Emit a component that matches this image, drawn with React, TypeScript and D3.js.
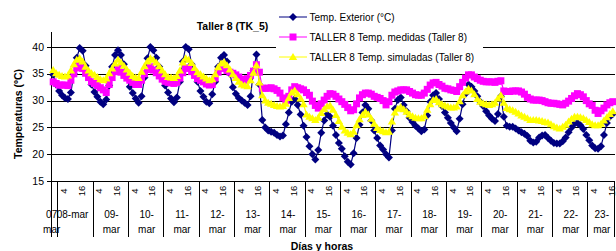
import { useEffect, useRef } from 'react';
import * as d3 from 'd3';

// days on the category axis (first and last are partial)
const days = [
  '07-mar', '08-mar', '09-mar', '10-mar', '11-mar', '12-mar', '13-mar', '14-mar',
  '15-mar', '16-mar', '17-mar', '18-mar', '19-mar', '20-mar', '21-mar', '22-mar', '23-mar',
];
const firstDayHours = d3.range(20, 25);
const fullDayHours = d3.range(1, 25);
const lastDayHours = d3.range(1, 19);
const hourTicks = [4, 16];
const yTicks = [15, 20, 25, 30, 35, 40];

// readings every odd hour (07-mar 21h ... 23-mar 17h)
const exterior = [
  34.8, 33.0,
  31.8, 31.0, 30.5, 30.3, 31.5, 35.0, 38.0, 39.8, 39.3, 36.5, 34.7, 33.0,
  31.6, 30.7, 29.8, 29.3, 30.2, 32.8, 36.3, 38.5, 39.4, 38.5, 36.8, 34.3,
  32.6, 31.4, 30.4, 29.6, 30.8, 34.3, 37.9, 40.0, 39.4, 38.0, 36.3, 34.5,
  32.8, 31.5, 30.4, 29.7, 30.6, 33.5, 37.3, 40.0, 39.6, 36.8, 34.8, 33.5,
  31.8, 30.7, 29.8, 29.5, 31.2, 33.5, 36.3, 38.0, 38.5, 37.3, 35.0, 32.5,
  31.3, 30.5, 30.0, 29.6, 29.2, 30.8, 35.6, 38.6, 33.0, 26.4, 25.0, 24.4,
  24.2, 24.0, 23.6, 23.3, 23.5, 25.6, 27.8, 29.8, 30.3, 29.2, 27.4, 25.3,
  23.2, 21.5, 20.0, 19.0, 20.8, 24.0, 26.3, 27.4, 27.0, 25.3, 23.6, 22.1,
  21.0, 19.6, 18.6, 18.1, 20.2, 23.0, 25.5, 27.8, 29.2, 28.5, 26.3, 24.4,
  23.0, 21.6, 20.9, 20.0, 19.4, 24.4, 28.5, 30.1, 30.6, 29.2, 28.0, 26.8,
  26.0, 25.3, 24.8, 24.3, 24.6, 27.2, 29.8, 31.0, 31.4, 30.3, 29.0, 27.8,
  26.8, 25.8, 25.0, 24.3, 26.6, 29.3, 31.3, 33.0, 32.6, 31.8, 30.8, 29.8,
  29.0, 28.0, 27.2, 26.6, 26.2, 27.5, 30.8, 27.0, 25.3, 25.1, 25.1, 24.8,
  24.4, 24.1, 23.8, 23.4, 22.5, 22.2, 22.3, 23.1, 23.5, 23.6, 23.0, 22.5,
  22.1, 22.0, 22.0, 22.4, 23.1, 24.1, 25.0, 25.7, 25.8, 25.4, 24.7, 23.6,
  22.6, 21.6, 21.1, 21.0, 21.5, 23.6, 25.8, 27.0, 27.5,
];

const medidas = [
  33.5, 33.2,
  32.9, 32.9, 32.9, 32.8, 33.8, 35.0, 36.1, 36.6, 36.0, 35.1, 34.3, 33.5,
  33.2, 32.8, 32.4, 32.0, 31.5, 33.0, 34.3, 35.4, 36.0, 35.3, 34.7, 34.2,
  33.8, 33.4, 33.0, 33.0, 33.8, 35.0, 35.8, 36.3, 35.7, 35.2, 34.6, 34.0,
  33.6, 33.4, 33.3, 33.2, 33.4, 34.2, 35.2, 36.1, 36.0, 35.4, 34.7, 34.1,
  33.8, 33.5, 33.1, 32.9, 33.0, 34.2, 35.3, 36.2, 36.0, 35.6, 35.3, 35.1,
  34.8, 34.4, 34.0, 33.8, 34.1, 34.7, 35.5, 36.7, 35.3, 32.3, 32.3, 32.3,
  32.4, 32.2, 31.9, 31.4, 30.5, 30.0, 30.8, 32.0, 32.6, 32.4, 32.2, 32.0,
  31.5, 31.0, 29.9, 29.1, 28.6, 29.4, 30.1, 30.8, 31.3, 31.2, 30.8, 30.3,
  29.8, 29.3, 28.7, 28.1, 28.3, 29.4, 30.5, 31.1, 31.4, 31.4, 31.2, 30.8,
  30.6, 30.4, 30.0, 29.2, 29.8, 31.0, 31.6, 31.8, 32.0, 32.0, 32.0, 31.7,
  31.4, 31.1, 31.0, 31.0, 31.4, 32.1, 32.9, 33.3, 33.4, 33.0, 32.7, 32.3,
  32.2, 32.0, 31.9, 31.7, 32.6, 33.4, 34.2, 34.8, 34.8, 34.4, 34.1, 33.8,
  33.6, 33.5, 33.5, 33.5, 33.4, 33.6, 33.7, 31.8, 31.7, 31.7, 31.8, 31.8,
  31.8, 31.6, 31.2, 30.6, 30.3, 30.1, 30.1, 30.1, 30.0, 29.8, 29.6, 29.5,
  29.5, 29.4, 29.3, 29.2, 29.5, 29.9, 30.4, 30.9, 31.3, 31.1, 30.7, 30.0,
  29.4, 29.1, 28.2, 27.6, 28.1, 28.6, 29.2, 29.6, 29.8,
];

const simuladas = [
  35.7, 35.1,
  34.8, 34.6, 34.5, 34.7, 35.6, 36.8, 37.6, 37.9, 37.3, 36.3, 35.6, 35.1,
  34.8, 34.4, 34.0, 33.8, 34.1, 35.1, 36.0, 36.9, 37.6, 37.1, 36.5, 35.8,
  35.2, 34.6, 34.3, 34.2, 35.4, 36.4, 37.3, 37.9, 37.6, 37.1, 36.4, 35.6,
  34.9, 34.4, 34.3, 34.2, 34.6, 35.6, 37.1, 37.9, 37.6, 37.0, 36.1, 35.3,
  34.9, 34.5, 34.1, 33.8, 34.0, 34.9, 36.2, 36.9, 37.2, 36.6, 35.8, 34.9,
  34.2, 33.5, 33.0, 32.8, 32.7, 33.8, 35.2, 36.6, 33.4, 31.0, 30.0, 29.6,
  29.4, 29.2, 29.0, 28.9, 29.0, 29.4, 30.5, 31.5, 31.9, 31.2, 30.4, 29.3,
  27.4, 27.0, 26.7, 26.4, 26.8, 27.7, 28.4, 28.9, 29.1, 28.3, 27.3, 26.2,
  25.1, 24.4, 24.0, 23.7, 24.2, 25.4, 26.5, 27.3, 27.9, 27.4, 26.6, 25.7,
  24.9, 24.5, 24.3, 24.1, 24.2, 26.1, 27.8, 28.5, 28.8, 28.4, 27.9, 27.4,
  27.1, 26.8, 26.7, 26.7, 27.1, 28.3, 29.3, 30.1, 30.3, 29.7, 29.3, 29.1,
  28.9, 28.7, 28.7, 28.9, 29.9, 31.0, 31.7, 32.2, 31.9, 31.2, 30.3, 29.8,
  29.5, 29.3, 29.2, 29.3, 29.6, 30.4, 31.0, 29.6, 28.6, 28.4, 28.2, 27.9,
  27.6, 27.2, 27.0, 26.7, 26.4, 26.4, 26.4, 26.3, 26.2, 26.0, 25.9, 25.6,
  25.2, 25.0, 24.8, 25.1, 25.5, 26.1, 26.6, 27.0, 27.0, 26.9, 26.7, 26.4,
  26.0, 25.6, 25.4, 25.4, 25.7, 26.3, 26.9, 27.5, 28.0,
];

const seriesNames = [
  'Temp. Exterior (°C)',
  'TALLER 8 Temp. medidas (Taller 8)',
  'TALLER 8 Temp. simuladas (Taller 8)',
];
const seriesColors = ['#000080', '#ff00ff', '#ffff00'];
const markerPaths = [
  'M0,-4L4,0L0,4L-4,0Z',
  'M-3.5,-3.5H3.5V3.5H-3.5Z',
  'M0,-4L4.2,3H-4.2Z',
];

const FONT = "'Liberation Sans', Arial, sans-serif";

export default function App() {
  const svgRef = useRef<SVGSVGElement>(null);

  useEffect(() => {
    const svg = d3.select(svgRef.current);
    svg.selectAll('*').remove();

    const left = 51;
    const right = 615;
    const top = 32;
    const bottom = 181;
    const axisBottom = 237;

    const categories = days.flatMap((day, d) => {
      const hours = d === 0 ? firstDayHours : d === days.length - 1 ? lastDayHours : fullDayHours;
      return hours.map((hour) => ({ day, d, hour }));
    });
    const sampled = categories
      .map((c, i) => ({ ...c, i }))
      .filter((c) => c.hour % 2 === 1);

    const x = d3.scaleLinear().domain([0, categories.length]).range([left, right]);
    const y = d3.scaleLinear().domain([15, 40]).range([bottom, 47]);
    const crisp = (v: number) => Math.round(v) + 0.5;

    svg.append('rect').attr('width', 616).attr('height', 251).attr('fill', '#fff');

    // grid lines
    svg
      .append('g')
      .selectAll('line')
      .data(yTicks.slice(1))
      .join('line')
      .attr('x1', left)
      .attr('x2', right)
      .attr('y1', (d) => crisp(y(d)))
      .attr('y2', (d) => crisp(y(d)))
      .attr('stroke', '#000')
      .attr('stroke-width', 1);

    // y axis
    svg.append('line')
      .attr('x1', crisp(left)).attr('x2', crisp(left))
      .attr('y1', top).attr('y2', axisBottom)
      .attr('stroke', '#000');

    const yAxis = svg.append('g');
    yAxis.selectAll('line')
      .data(yTicks)
      .join('line')
      .attr('x1', left - 4).attr('x2', left)
      .attr('y1', (d) => crisp(y(d))).attr('y2', (d) => crisp(y(d)))
      .attr('stroke', '#000');
    yAxis.selectAll('text')
      .data(yTicks)
      .join('text')
      .attr('x', 44)
      .attr('y', (d) => y(d))
      .attr('dy', '0.35em')
      .attr('text-anchor', 'end')
      .attr('font-family', FONT)
      .attr('font-size', 10.5)
      .text((d) => d);

    // x axis line and day separators
    svg.append('line')
      .attr('x1', left).attr('x2', right)
      .attr('y1', crisp(bottom)).attr('y2', crisp(bottom))
      .attr('stroke', '#000');

    const dayStarts: number[] = [];
    let acc = 0;
    days.forEach((_, d) => {
      dayStarts.push(acc);
      acc += d === 0 ? firstDayHours.length : d === days.length - 1 ? lastDayHours.length : fullDayHours.length;
    });
    const boundaries = [...dayStarts.slice(1), categories.length];
    svg.append('g')
      .selectAll('line')
      .data(boundaries)
      .join('line')
      .attr('x1', (d) => crisp(x(d)) - 1).attr('x2', (d) => crisp(x(d)) - 1)
      .attr('y1', bottom).attr('y2', axisBottom)
      .attr('stroke', '#000');

    // hour labels
    const hourLabels = categories
      .map((c, i) => ({ ...c, i }))
      .filter((c) => hourTicks.includes(c.hour));
    svg.append('g')
      .selectAll('text')
      .data(hourLabels)
      .join('text')
      .attr('transform', (c) => `translate(${x(c.i + 0.5)},191) rotate(-90)`)
      .attr('dy', '0.35em')
      .attr('text-anchor', 'middle')
      .attr('font-family', FONT)
      .attr('font-size', 9.5)
      .text((c) => c.hour);

    // day labels
    const dayG = svg.append('g')
      .attr('font-family', FONT)
      .attr('font-size', 10)
      .attr('text-anchor', 'middle');
    days.forEach((day, d) => {
      const start = dayStarts[d];
      const end = boundaries[d];
      const cx = (x(start) + x(end)) / 2;
      const [num, month] = day.split('-');
      if (d === 1) {
        dayG.append('text').attr('x', cx - 3.5).attr('y', 217.5).text(day);
      } else {
        const first = d === 0 ? num : `${num}-`;
        const shift = d === 0 ? -3 : 0;
        dayG.append('text').attr('x', cx + shift).attr('y', 217.5).text(first);
        dayG.append('text').attr('x', cx + shift).attr('y', 233).text(month);
      }
    });

    // series
    const allSeries = [exterior, medidas, simuladas];
    allSeries.forEach((values, s) => {
      const pts = sampled.map((c, k) => [x(c.i + 0.5), y(values[k])] as [number, number]);
      const line = d3.line<[number, number]>();
      svg.append('path')
        .attr('d', line(pts))
        .attr('fill', 'none')
        .attr('stroke', seriesColors[s])
        .attr('stroke-width', 1.2);
      svg.append('g')
        .selectAll('path')
        .data(pts)
        .join('path')
        .attr('transform', (p) => `translate(${p[0]},${p[1]})`)
        .attr('d', markerPaths[s])
        .attr('fill', seriesColors[s]);
    });

    // legend
    const legend = svg.append('g');
    legend.append('rect')
      .attr('x', 276).attr('y', 0).attr('width', 207).attr('height', 66)
      .attr('fill', '#fff');
    seriesNames.forEach((name, s) => {
      const ly = 17 + s * 20;
      legend.append('line')
        .attr('x1', 279).attr('x2', 307)
        .attr('y1', ly).attr('y2', ly)
        .attr('stroke', seriesColors[s]);
      legend.append('path')
        .attr('transform', `translate(293,${ly})`)
        .attr('d', markerPaths[s])
        .attr('fill', seriesColors[s]);
      legend.append('text')
        .attr('x', 309.5).attr('y', ly + 3.5)
        .attr('font-family', FONT)
        .attr('font-size', 10)
        .text(name);
    });

    // title
    svg.append('text')
      .attr('x', 232.5).attr('y', 29.5)
      .attr('text-anchor', 'middle')
      .attr('font-family', FONT)
      .attr('font-size', 10.5)
      .attr('font-weight', 'bold')
      .text('Taller 8 (TK_5)');

    // axis titles
    svg.append('text')
      .attr('transform', 'translate(22,114) rotate(-90)')
      .attr('text-anchor', 'middle')
      .attr('font-family', FONT)
      .attr('font-size', 10.5)
      .attr('font-weight', 'bold')
      .text('Temperaturas (ºC)');

    svg.append('text')
      .attr('x', 322).attr('y', 249.5)
      .attr('text-anchor', 'middle')
      .attr('font-family', FONT)
      .attr('font-size', 10.5)
      .attr('font-weight', 'bold')
      .text('Días y horas');
  }, []);

  return (
    <svg
      ref={svgRef}
      width={616}
      height={251}
      style={{ position: 'absolute', left: 0, top: 0, display: 'block' }}
    />
  );
}
